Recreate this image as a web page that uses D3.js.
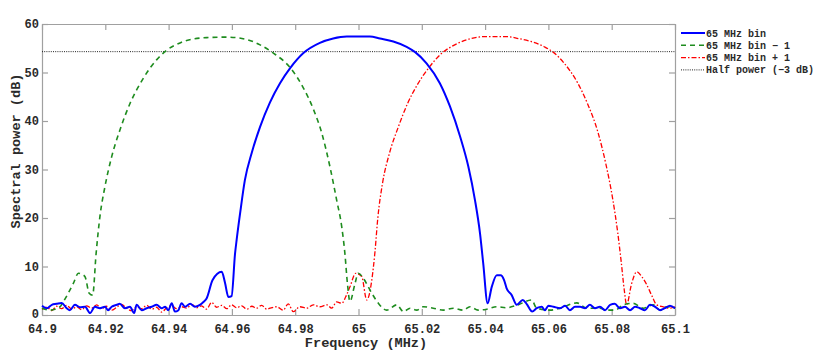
<!DOCTYPE html>
<html>
<head>
<meta charset="utf-8">
<script src="https://cdn.jsdelivr.net/npm/d3@7"></script>
<style>
  body { margin: 0; background: #fff; }
  svg { display: block; font-family: "Liberation Mono", "DejaVu Sans Mono", monospace; font-weight: bold; }
</style>
</head>
<body>
<svg id="chart" width="817" height="356"></svg>
<script>
// tick values and labels
const freqTicks = [64.9, 64.92, 64.94, 64.96, 64.98, 65, 65.02, 65.04, 65.06, 65.08, 65.1];
const freqTickLabels = ["64.9", "64.92", "64.94", "64.96", "64.98", "65", "65.02", "65.04", "65.06", "65.08", "65.1"];
const powerTicks = [0, 10, 20, 30, 40, 50, 60];
const halfPower = 54.3;

// [frequency MHz, power dB]
const binCenter = [
  [64.9000, 1.9], [64.9015, 1.4], [64.9031, 2.1], [64.9046, 2.3], [64.9062, 2.5], [64.9078, 1.4],
  [64.9088, 1.0], [64.9104, 2.1], [64.9120, 1.6], [64.9136, 1.7], [64.9152, 0.4], [64.9167, 1.7],
  [64.9183, 1.4], [64.9199, 1.7], [64.9209, 1.0], [64.9220, 1.7], [64.9236, 2.1], [64.9246, 2.3],
  [64.9262, 1.4], [64.9278, 1.7], [64.9291, 0.4], [64.9299, 2.1], [64.9315, 1.0], [64.9331, 1.4],
  [64.9347, 1.7], [64.9362, 2.1], [64.9378, 1.4], [64.9389, 1.7], [64.9399, 1.0], [64.9410, 2.4],
  [64.9420, 0.7], [64.9431, 1.0], [64.9441, 2.4], [64.9452, 1.7], [64.9468, 2.3], [64.9483, 1.7],
  [64.9499, 2.1], [64.9510, 2.7], [64.9520, 3.4], [64.9539, 7.2], [64.9568, 8.9], [64.9578, 6.7],
  [64.9589, 3.7], [64.9599, 3.9], [64.9610, 12.7], [64.9615, 15.5], [64.9626, 21.0], [64.9641, 27.8],
  [64.9663, 33.5], [64.9689, 38.8], [64.9720, 43.8], [64.9752, 47.8], [64.9784, 50.9], [64.9826, 54.0],
  [64.9878, 56.1], [64.9920, 57.0], [64.9963, 57.4], [65.0036, 57.4], [65.0068, 57.0], [65.0110, 56.4],
  [65.0152, 55.3], [65.0179, 54.2], [65.0215, 51.9], [65.0257, 47.8], [65.0289, 43.0], [65.0321, 36.8],
  [65.0347, 30.6], [65.0368, 23.7], [65.0384, 16.8], [65.0394, 10.7], [65.0408, 2.4], [65.0421, 5.8],
  [65.0437, 8.2], [65.0449, 8.2], [65.0460, 7.2], [65.0468, 5.5], [65.0484, 4.1], [65.0500, 2.1],
  [65.0519, 3.1], [65.0531, 2.3], [65.0549, 0.7], [65.0563, 1.4], [65.0579, 1.7], [65.0589, 1.0],
  [65.0600, 1.9], [65.0616, 1.7], [65.0637, 1.4], [65.0653, 1.9], [65.0668, 1.0], [65.0684, 1.7],
  [65.0700, 1.7], [65.0716, 1.4], [65.0731, 2.1], [65.0747, 1.4], [65.0763, 1.7], [65.0779, 1.0],
  [65.0795, 2.1], [65.0810, 2.3], [65.0826, 1.4], [65.0842, 1.7], [65.0858, 1.0], [65.0874, 1.7],
  [65.0889, 1.4], [65.0905, 1.0], [65.0921, 2.1], [65.0937, 1.7], [65.0953, 1.0], [65.0968, 1.4],
  [65.0984, 1.9], [65.1000, 1.4]
];

const binLower = [
  [64.9000, 1.4], [64.9025, 1.0], [64.9057, 1.7], [64.9067, 2.7], [64.9099, 6.5], [64.9115, 8.6],
  [64.9125, 8.4], [64.9136, 7.9], [64.9149, 4.5], [64.9160, 4.1], [64.9171, 12.7], [64.9183, 20.3],
  [64.9199, 26.5], [64.9220, 32.6], [64.9246, 38.1], [64.9278, 43.6], [64.9320, 48.8], [64.9362, 52.6],
  [64.9394, 54.6], [64.9436, 56.1], [64.9457, 56.6], [64.9520, 57.2], [64.9584, 57.3], [64.9647, 56.8],
  [64.9689, 55.7], [64.9731, 54.0], [64.9784, 51.0], [64.9826, 46.8], [64.9857, 42.5], [64.9884, 37.5],
  [64.9910, 30.5], [64.9931, 23.7], [64.9947, 18.2], [64.9957, 12.7], [64.9965, 6.5], [64.9973, 2.8],
  [64.9989, 6.5], [64.9999, 8.6], [65.0015, 7.6], [65.0031, 5.8], [65.0042, 4.5], [65.0063, 2.4],
  [65.0089, 1.0], [65.0121, 2.1], [65.0142, 0.7], [65.0163, 1.4], [65.0184, 1.0], [65.0205, 1.7],
  [65.0236, 1.4], [65.0268, 1.0], [65.0300, 1.4], [65.0331, 1.0], [65.0352, 1.7], [65.0378, 1.0],
  [65.0405, 1.2], [65.0437, 1.7], [65.0468, 1.5], [65.0500, 2.0], [65.0547, 3.1], [65.0563, 1.4],
  [65.0605, 1.0], [65.0637, 1.4], [65.0690, 2.5], [65.0721, 1.4], [65.0763, 1.4], [65.0784, 1.0],
  [65.0810, 1.0], [65.0837, 2.1], [65.0868, 2.4], [65.0900, 1.4], [65.0931, 2.1], [65.0953, 1.0],
  [65.0974, 1.7], [65.1000, 1.4]
];

const binUpper = [
  [64.9000, 1.2], [64.9015, 1.6], [64.9031, 0.9], [64.9046, 1.8], [64.9062, 1.3], [64.9078, 2.0],
  [64.9094, 1.2], [64.9110, 1.7], [64.9125, 1.1], [64.9141, 1.9], [64.9157, 1.4], [64.9173, 2.1],
  [64.9188, 1.3], [64.9204, 1.8], [64.9220, 1.0], [64.9236, 1.6], [64.9251, 2.2], [64.9267, 1.4],
  [64.9283, 0.9], [64.9299, 1.7], [64.9315, 1.3], [64.9331, 2.0], [64.9347, 1.2], [64.9362, 1.6],
  [64.9378, 0.6], [64.9394, 1.5], [64.9410, 1.9], [64.9425, 1.3], [64.9441, 1.7], [64.9457, 1.4],
  [64.9473, 2.2], [64.9489, 1.5], [64.9504, 1.9], [64.9520, 1.2], [64.9536, 2.6], [64.9552, 1.6],
  [64.9568, 2.0], [64.9584, 1.3], [64.9599, 2.1], [64.9615, 1.5], [64.9631, 1.9], [64.9647, 1.2],
  [64.9663, 1.8], [64.9678, 1.4], [64.9694, 2.0], [64.9710, 1.2], [64.9720, 1.4], [64.9742, 1.7],
  [64.9762, 1.0], [64.9778, 2.3], [64.9794, 0.7], [64.9815, 1.7], [64.9836, 1.4], [64.9857, 2.1],
  [64.9878, 1.7], [64.9900, 2.1], [64.9915, 1.4], [64.9931, 2.7], [64.9947, 2.4], [64.9960, 3.8],
  [64.9973, 5.8], [64.9991, 8.6], [65.0010, 8.0], [65.0026, 3.1], [65.0042, 7.2], [65.0052, 13.0],
  [65.0061, 20.0], [65.0076, 27.2], [65.0098, 33.4], [65.0126, 38.8], [65.0155, 43.6], [65.0187, 47.6],
  [65.0220, 50.8], [65.0262, 53.9], [65.0313, 56.0], [65.0355, 57.0], [65.0400, 57.4], [65.0470, 57.4],
  [65.0505, 57.0], [65.0545, 56.4], [65.0587, 55.3], [65.0615, 54.2], [65.0650, 51.9], [65.0692, 47.9],
  [65.0724, 43.5], [65.0756, 37.8], [65.0782, 31.0], [65.0803, 24.0], [65.0819, 17.0], [65.0830, 11.0],
  [65.0840, 5.0], [65.0847, 2.1], [65.0863, 6.5], [65.0879, 8.9], [65.0895, 7.9], [65.0911, 6.2],
  [65.0926, 4.1], [65.0942, 2.1], [65.0963, 1.7], [65.0984, 1.4], [65.1000, 1.7]
];

const seriesNames = ["65 MHz bin", "65 MHz bin \u2212 1", "65 MHz bin + 1", "Half power (\u22123 dB)"];

const margin = { top: 24, right: 142, bottom: 41, left: 42 };
const width = 817, height = 356;
const svg = d3.select("#chart");

const x = d3.scaleLinear().domain([64.9, 65.1]).range([margin.left, width - margin.right]);
const y = d3.scaleLinear().domain([0, 60]).range([height - margin.bottom, margin.top]);

const axisColor = "#a0a0a0";
const textColor = "#2a2a2a";

// axes, ticks pointing inward on all four sides
const xAxis = d3.axisBottom(x).tickValues(freqTicks)
  .tickFormat((d, i) => freqTickLabels[i]).tickSizeInner(-6).tickSizeOuter(0).tickPadding(9);
const gx = svg.append("g").attr("transform", `translate(0,${y(0)})`).call(xAxis);

const yAxis = d3.axisLeft(y).tickValues(powerTicks).tickSizeInner(-6).tickSizeOuter(0).tickPadding(3);
const gy = svg.append("g").attr("transform", `translate(${x(64.9)},0)`).call(yAxis);
gy.selectAll(".tick text").filter(d => d === 0).attr("dy", "0.2em");

const gTop = svg.append("g").attr("transform", `translate(0,${y(60)})`)
  .call(d3.axisTop(x).tickValues(freqTicks).tickSizeInner(-6).tickSizeOuter(0).tickFormat(""));
const gRight = svg.append("g").attr("transform", `translate(${x(65.1)},0)`)
  .call(d3.axisRight(y).tickValues(powerTicks).tickSizeInner(-6).tickSizeOuter(0).tickFormat(""));

[gx, gy, gTop, gRight].forEach(g => {
  g.selectAll("path, line").attr("stroke", axisColor).attr("stroke-width", 1.2);
  g.selectAll("text").attr("fill", textColor).attr("font-size", 12)
    .attr("font-family", "Liberation Mono, monospace").attr("font-weight", "bold");
});

// axis labels
svg.append("text").attr("x", 366).attr("y", 347).attr("text-anchor", "middle")
  .attr("font-size", 13.6).attr("fill", textColor).text("Frequency (MHz)");
svg.append("text").attr("transform", "translate(20,151) rotate(-90)").attr("text-anchor", "middle")
  .attr("font-size", 13.6).attr("fill", textColor).text("Spectral power (dB)");

// half power line
svg.append("line")
  .attr("x1", x(64.9)).attr("x2", x(65.1)).attr("y1", y(halfPower)).attr("y2", y(halfPower))
  .attr("stroke", "#222").attr("stroke-width", 1).attr("stroke-dasharray", "1,1.2");

const line = d3.line().x(d => x(d[0])).y(d => y(d[1])).curve(d3.curveMonotoneX);

const styles = [
  { data: binCenter, color: "#0000ff", width: 2, dash: null },
  { data: binLower, color: "#1e8c1e", width: 1.6, dash: "5,4" },
  { data: binUpper, color: "#ff0000", width: 1.3, dash: "5,2,1.5,2" }
];

svg.append("g").selectAll("path")
  .data([styles[2], styles[1], styles[0]])
  .join("path")
  .attr("d", s => line(s.data))
  .attr("fill", "none")
  .attr("stroke", s => s.color)
  .attr("stroke-width", s => s.width)
  .attr("stroke-dasharray", s => s.dash)
  .attr("stroke-linejoin", "round");

// legend
const legendItems = [
  { name: seriesNames[0], color: "#0000ff", width: 2, dash: null },
  { name: seriesNames[1], color: "#1e8c1e", width: 1.6, dash: "5,4" },
  { name: seriesNames[2], color: "#ff0000", width: 1.3, dash: "5,2,1.5,2" },
  { name: seriesNames[3], color: "#222", width: 1, dash: "1,1.2" }
];
const legend = svg.append("g").attr("transform", "translate(681,33)");
const rows = legend.selectAll("g").data(legendItems).join("g")
  .attr("transform", (d, i) => `translate(0,${i * 12.3})`);
rows.append("line").attr("x1", 0).attr("x2", 24).attr("y1", 0).attr("y2", 0)
  .attr("stroke", d => d.color).attr("stroke-width", d => d.width).attr("stroke-dasharray", d => d.dash);
rows.append("text").attr("x", 25).attr("y", 3.5).attr("font-size", 10).attr("fill", textColor)
  .text(d => d.name);
</script>
</body>
</html>
